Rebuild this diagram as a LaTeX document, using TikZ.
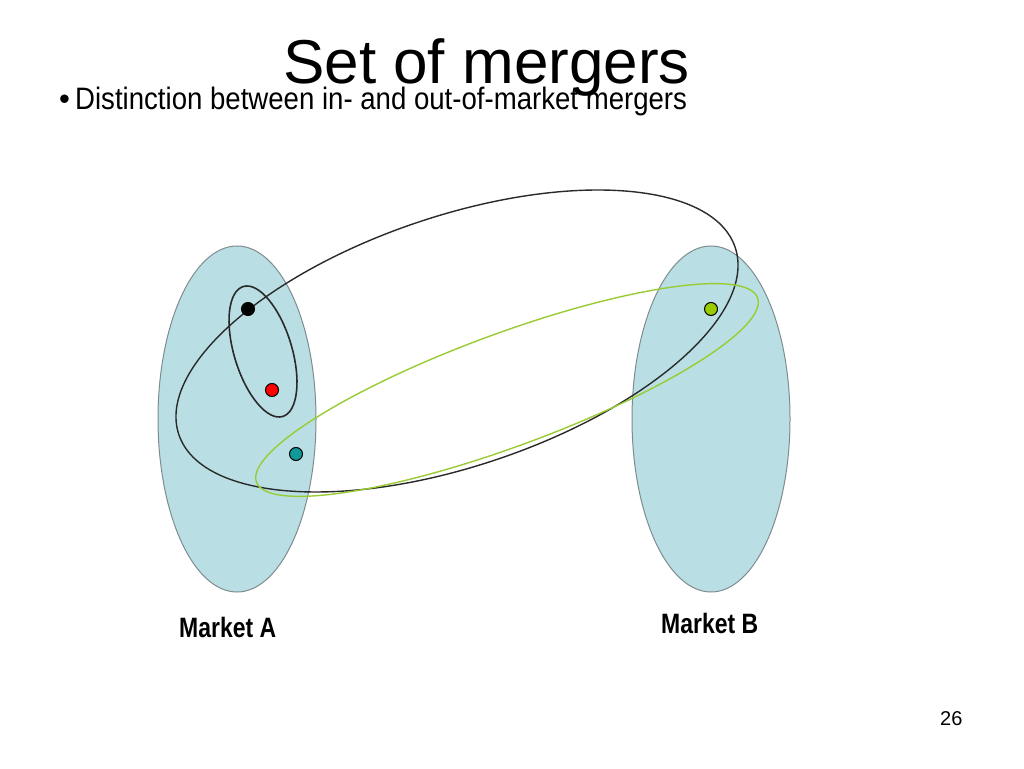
\documentclass[tikz,border=0pt]{standalone}
\usepackage{fontspec}
\setmainfont{Liberation Sans}
\newfontfamily\narrowfont[FakeStretch=0.89]{Liberation Sans}
\newfontfamily\narrowboldfont[FakeStretch=0.82]{Liberation Sans Bold}
\usetikzlibrary{shapes.geometric}
\definecolor{mktfill}{HTML}{B9DFE5}
\definecolor{mktline}{HTML}{7F8C8F}
\definecolor{grn}{HTML}{99CC33}
\definecolor{grndot}{HTML}{99CC00}
\definecolor{tealdot}{HTML}{119999}
\definecolor{darkline}{HTML}{2A2A2A}
\tikzset{
  market/.style={ellipse, draw=mktline, fill=mktfill, line width=1pt, minimum width=158pt, minimum height=346pt, inner sep=0pt},
  ring/.style={ellipse, draw=darkline, line width=1.4pt, inner sep=0pt},
  greenring/.style={ellipse, draw=grn, line width=1.4pt, inner sep=0pt},
  dot/.style={circle, draw=black, line width=1pt, minimum size=13pt, inner sep=0pt},
  txt/.style={inner sep=0pt, anchor=base west}
}
\begin{document}
\begin{tikzpicture}[x=1pt,y=1pt]
\useasboundingbox (0,0) rectangle (1024,768);
\fill[white] (0,0) rectangle (1024,768);
% markets
\node[market] (mA) at (237,349) {};
\node[market] (mB) at (711,349) {};
% rings
\node[ring, minimum width=587pt, minimum height=250pt, rotate=18.6] (big) at (457,427) {};
\node[greenring, minimum width=534pt, minimum height=113pt, rotate=20.2] (grnring) at (507,378) {};
\node[ring, line width=1.6pt, minimum width=57.8pt, minimum height=135.8pt, rotate=16.9] (small) at (263,416.5) {};
% dots
\node[dot, fill=black] (d1) at (248,459) {};
\node[dot, fill=red] (d2) at (272,378) {};
\node[dot, fill=tealdot] (d3) at (296,314) {};
\node[dot, fill=grndot] (d4) at (711,459) {};
% texts
\node[txt] (title) at (283,684) {\fontsize{62}{62}\selectfont Set of mergers};
\node[txt] (bul) at (59,658) {\fontsize{31}{31}\selectfont\textbullet};
\node[txt] (sub) at (75,658) {\narrowfont\fontsize{31}{31}\selectfont Distinction between in- and out-of-market mergers};
\node[txt] (la) at (179,131) {\narrowboldfont\fontsize{28}{28}\selectfont Market A};
\node[txt] (lb) at (661,135) {\narrowboldfont\fontsize{28}{28}\selectfont Market B};
\node[txt] (pg) at (940,43) {\fontsize{20}{20}\selectfont 26};
\end{tikzpicture}
\end{document}
